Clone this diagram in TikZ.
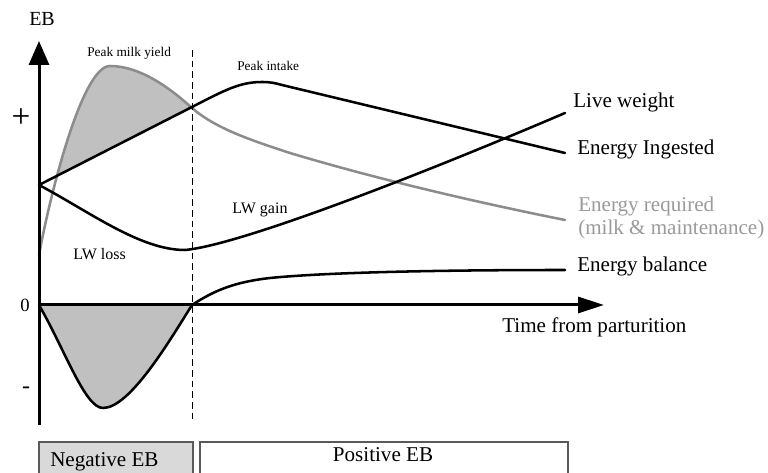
\documentclass[tikz,border=0pt]{standalone}
\usepackage{fontspec}
\setmainfont{Liberation Serif}
\usetikzlibrary{arrows.meta}
\definecolor{reqgray}{HTML}{8C8C8C}
\definecolor{deficitgray}{HTML}{C0C0C0}
\definecolor{boxgray}{HTML}{D9D9D9}
\definecolor{boxedge}{HTML}{5A5A5A}
\definecolor{reqtext}{HTML}{9A9A9A}
\begin{document}
\begin{tikzpicture}[x=0.75pt,y=-0.75pt,
  curve/.style={line width=1.9pt, line join=round, line cap=round},
  axis/.style={line width=2.25pt},
  biglabel/.style={font=\fontsize{15.8}{18}\selectfont, inner sep=0pt, anchor=base west},
  smalllabel/.style={font=\fontsize{10}{12}\selectfont, inner sep=0pt, anchor=base west},
  midlabel/.style={font=\fontsize{12}{14}\selectfont, inner sep=0pt, anchor=base west},
  ebbox/.style={draw=boxedge, line width=1.1pt}]
\useasboundingbox (0,0) rectangle (768,473);
\clip (0,0) rectangle (768,473);

% shaded deficit between requirement and intake
\begin{scope}
  \clip (39,185) -- (192,107) -- (192,0) -- (39,0) -- cycle;
  \fill[deficitgray] (39,255) .. controls (50,195) and (82,66) .. (110,66)
    .. controls (140,66) and (170,88) .. (192,108) -- cycle;
\end{scope}
% shaded negative energy balance
\fill[deficitgray] (39,305) .. controls (65,350) and (85,408) .. (103,408)
  .. controls (130,408) and (170,340) .. (192,305) -- cycle;

% energy required (milk & maintenance)
\draw[curve, reqgray] (39,255) .. controls (50,195) and (82,66) .. (110,66)
  .. controls (140,66) and (170,88) .. (192,108)
  .. controls (215,128) and (250,140) .. (290,153)
  .. controls (380,180) and (480,203) .. (565,220);

% energy ingested
\draw[curve] (39,185) -- (192,107) .. controls (225,90) and (240,82) .. (262,82)
  .. controls (270,82) and (275,83) .. (282,85) -- (565,153);

% live weight
\draw[curve] (39,185) .. controls (90,212) and (140,250) .. (185,250)
  .. controls (240,245) and (420,175) .. (565,113);

% energy balance
\draw[curve] (39,305) .. controls (65,350) and (85,408) .. (103,408)
  .. controls (130,408) and (170,340) .. (192,305)
  .. controls (215,290) and (235,282) .. (270,278)
  .. controls (330,272) and (450,270) .. (565,270);

% boundary between negative and positive balance
\draw[line width=0.75pt, dash pattern=on 5pt off 3pt] (192,50) -- (192,420);

% axes
\draw[axis, -{Triangle[length=18pt, width=15pt]}] (39,425) -- (39,41);
\draw[axis, -{Triangle[length=19.5pt, width=12pt]}] (39,305) -- (604,305);

% axis labels
\node[font=\fontsize{15}{18}\selectfont, inner sep=0pt, anchor=base west] (eb) at (29,26) {EB};
\node[font=\fontsize{25}{28}\selectfont, inner sep=0pt] (plus) at (21,118) {+};
\node[font=\fontsize{14}{16}\selectfont, inner sep=0pt, anchor=base west] (zero) at (20,312) {0};
\node[font=\fontsize{18}{20}\selectfont, inner sep=0pt] (minus) at (26,390) {-};
\node[biglabel] (time) at (502,333) {Time from parturition};

% curve labels
\node[smalllabel] (peakmilk) at (87,57) {Peak milk yield};
\node[smalllabel] (peakintake) at (237,71) {Peak intake};
\node[midlabel] (lwgain) at (232,214) {LW gain};
\node[midlabel] (lwloss) at (73,260) {LW loss};
\node[biglabel] (lw) at (573,108) {Live weight};
\node[biglabel] (ei) at (577,155) {Energy Ingested};
\node[biglabel, text=reqtext] (er1) at (578,212) {Energy required};
\node[biglabel, text=reqtext] (er2) at (578,235) {(milk \& maintenance)};
\node[biglabel] (ebal) at (577,272) {Energy balance};

% phase boxes
\draw[ebbox, fill=boxgray] (39,442) rectangle (193,480);
\draw[ebbox, fill=white] (200,442) rectangle (568,480);
\node[biglabel] (neg) at (50,467) {Negative EB};
\node[font=\fontsize{15.8}{18}\selectfont, inner sep=0pt, anchor=base] (pos) at (383,462) {Positive EB};
\end{tikzpicture}
\end{document}
